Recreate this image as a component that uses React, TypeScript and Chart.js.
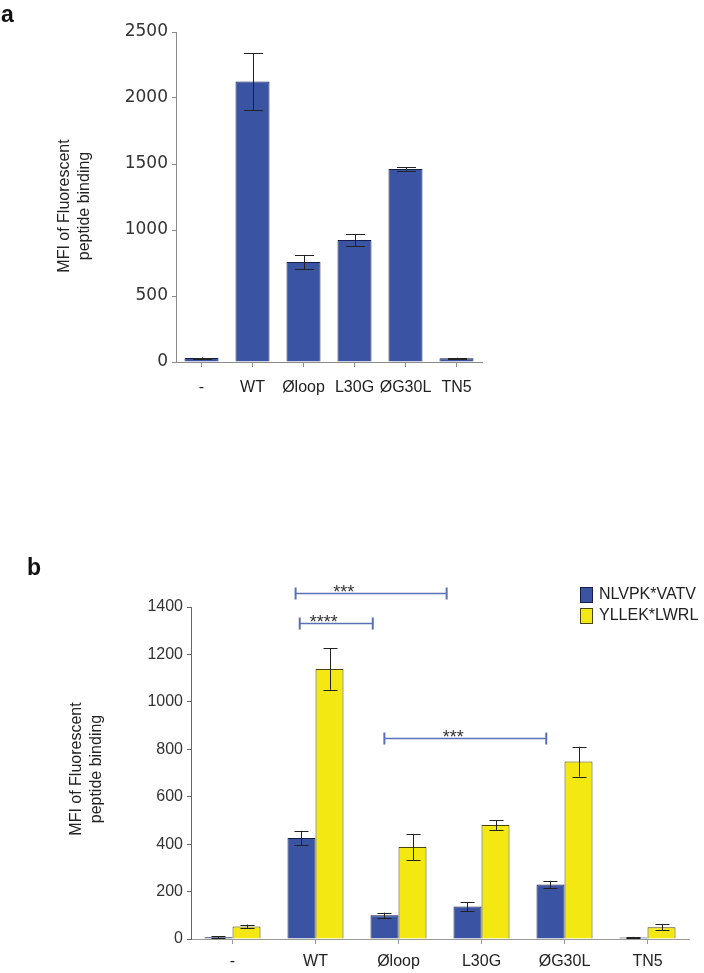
import React, { useEffect, useRef } from 'react';
import { Chart, registerables } from 'chart.js';

Chart.register(...registerables);

const FONT = '"Liberation Sans", Arial, sans-serif';

// ---------- Panel a data ----------
const categoriesA = ['-', 'WT', 'Øloop', 'L30G', 'ØG30L', 'TN5'];
const valuesA = [30, 2125, 758, 924, 1462, 28];
const errorsA = [4, 216, 53, 45, 12, 4];
const yTicksA = [0, 500, 1000, 1500, 2000, 2500];
const yTitleA = ['MFI of Fluorescent', 'peptide binding'];

// ---------- Panel b data ----------
const categoriesB = ['-', 'WT', 'Øloop', 'L30G', 'ØG30L', 'TN5'];
const seriesNamesB = ['NLVPK*VATV', 'YLLEK*LWRL'];
const valuesB1 = [7, 426, 100, 137, 230, 6];
const errorsB1 = [4, 30, 11, 18, 15, 3];
const valuesB2 = [53, 1139, 388, 481, 748, 50];
const errorsB2 = [8, 88, 55, 21, 63, 12];
const yTicksB = [0, 200, 400, 600, 800, 1000, 1200, 1400];
const yTitleB = ['MFI of Fluorescent', 'peptide binding'];
const bracketStartsB = [0.76, 0.81, 1.83];
const bracketEndsB = [2.58, 1.69, 3.78];
const bracketLevelsB = [1460, 1333, 848];
const bracketLabelsB = ['***', '****', '***'];
const bracketLabelAtB = [1.34, 1.1, 2.66];

const BLUE = '#3a53a3';
const BLUE_BORDER = '#141d4a';
const YELLOW = '#f4e813';
const YELLOW_BORDER = '#4a4412';

function errorBarPlugin(errorSets: number[][], capHalf: number) {
  return {
    id: 'errorBars',
    afterDatasetsDraw(chart: any) {
      const ctx = chart.ctx;
      const yScale = chart.scales.y;
      ctx.save();
      ctx.strokeStyle = '#222';
      ctx.lineWidth = 1;
      errorSets.forEach((errs, di) => {
        const meta = chart.getDatasetMeta(di);
        const vals = chart.data.datasets[di].data as number[];
        meta.data.forEach((el: any, i: number) => {
          const x = Math.round(el.x) + 0.5;
          const top = yScale.getPixelForValue(vals[i] + errs[i]);
          const bot = yScale.getPixelForValue(Math.max(0, vals[i] - errs[i]));
          ctx.beginPath();
          ctx.moveTo(x, top);
          ctx.lineTo(x, bot);
          ctx.moveTo(x - capHalf, Math.round(top) + 0.5);
          ctx.lineTo(x + capHalf, Math.round(top) + 0.5);
          ctx.moveTo(x - capHalf, Math.round(bot) + 0.5);
          ctx.lineTo(x + capHalf, Math.round(bot) + 0.5);
          ctx.stroke();
        });
      });
      ctx.restore();
    },
  };
}

function textPlugin(letter: string, letterX: number, letterY: number, title: string[], titleX: number, titleY: number) {
  return {
    id: 'panelText',
    afterDraw(chart: any) {
      const ctx = chart.ctx;
      ctx.save();
      ctx.fillStyle = '#111';
      ctx.font = `bold 23px ${FONT}`;
      ctx.textAlign = 'left';
      ctx.textBaseline = 'alphabetic';
      ctx.fillText(letter, letterX, letterY);
      ctx.translate(titleX, titleY);
      ctx.rotate(-Math.PI / 2);
      ctx.font = `16px ${FONT}`;
      ctx.fillStyle = '#222';
      ctx.textAlign = 'center';
      ctx.textBaseline = 'middle';
      title.forEach((line, i) => ctx.fillText(line, 0, i * 20));
      ctx.restore();
    },
  };
}

const bracketPlugin = {
  id: 'brackets',
  afterDraw(chart: any) {
    const ctx = chart.ctx;
    const xs = chart.scales.x;
    const ys = chart.scales.y;
    ctx.save();
    bracketLevelsB.forEach((lvl, i) => {
      const x1 = xs.getPixelForValue(bracketStartsB[i]);
      const x2 = xs.getPixelForValue(bracketEndsB[i]);
      const y = Math.round(ys.getPixelForValue(lvl)) + 0.5;
      ctx.strokeStyle = '#5a70b8';
      ctx.lineWidth = 1.5;
      ctx.beginPath();
      ctx.moveTo(x1, y);
      ctx.lineTo(x2, y);
      ctx.stroke();
      ctx.lineWidth = 2;
      ctx.beginPath();
      ctx.moveTo(x1, y - 6);
      ctx.lineTo(x1, y + 6);
      ctx.moveTo(x2, y - 6);
      ctx.lineTo(x2, y + 6);
      ctx.stroke();
      ctx.fillStyle = '#333';
      ctx.font = `18px ${FONT}`;
      ctx.textAlign = 'center';
      ctx.textBaseline = 'alphabetic';
      ctx.fillText(bracketLabelsB[i], xs.getPixelForValue(bracketLabelAtB[i]), y + 4);
    });
    ctx.restore();
  },
};

const legendPlugin = {
  id: 'customLegend',
  afterDraw(chart: any) {
    const ctx = chart.ctx;
    ctx.save();
    chart.data.datasets.forEach((ds: any, i: number) => {
      const y = 107 + i * 21;
      ctx.fillStyle = ds.backgroundColor;
      ctx.fillRect(580, y, 13, 16);
      ctx.strokeStyle = ds.borderColor;
      ctx.lineWidth = 1;
      ctx.strokeRect(580.5, y + 0.5, 12, 15);
      ctx.fillStyle = '#222';
      ctx.font = `16px ${FONT}`;
      ctx.textAlign = 'left';
      ctx.textBaseline = 'middle';
      ctx.fillText(ds.label, 599, y + 8);
    });
    ctx.restore();
  },
};

const plainNumber = (v: any) => String(v);

function xAxis(color: string, height: number, pad: number) {
  return {
    grid: { drawOnChartArea: false, drawTicks: true, tickLength: 5, color, offset: false },
    border: { display: true, color, width: 1 },
    ticks: {
      padding: pad,
      color: '#222',
      font: { size: 16, family: FONT },
      maxRotation: 0,
      minRotation: 0,
      autoSkip: false,
    },
    afterFit: (s: any) => { s.height = height; },
  };
}

function yAxis(color: string, max: number, ticksArr: number[], width: number, font: any) {
  return {
    min: 0,
    max,
    grid: { drawOnChartArea: false, drawTicks: true, tickLength: 4, color },
    border: { display: true, color, width: 1 },
    afterBuildTicks: (s: any) => { s.ticks = ticksArr.map((v) => ({ value: v })); },
    ticks: { padding: 4, color: '#333', font, callback: plainNumber },
    afterFit: (s: any) => { s.width = width; },
  };
}

export default function App() {
  const refA = useRef<HTMLCanvasElement>(null);
  const refB = useRef<HTMLCanvasElement>(null);

  useEffect(() => {
    Chart.defaults.font.family = FONT;
    const a = new Chart(refA.current as HTMLCanvasElement, {
      type: 'bar',
      data: {
        labels: categoriesA,
        datasets: [
          {
            label: 'MFI',
            data: valuesA,
            backgroundColor: BLUE,
            borderColor: BLUE_BORDER,
            borderWidth: 1,
            categoryPercentage: 0.667,
            barPercentage: 1,
          },
        ],
      },
      options: {
        animation: false,
        responsive: false,
        layout: { padding: { top: 32, left: 0, right: 222, bottom: 0 } },
        plugins: { legend: { display: false }, tooltip: { enabled: false } },
        scales: {
          x: xAxis('#8a8a8a', 58, 11),
          y: yAxis('#8a8a8a', 2500, yTicksA, 176, { size: 17, family: '"DejaVu Sans", sans-serif' }),
        },
      } as any,
      plugins: [errorBarPlugin([errorsA], 9.5), textPlugin('a', 1, 22, yTitleA, 65, 206)],
    });

    const b = new Chart(refB.current as HTMLCanvasElement, {
      type: 'bar',
      data: {
        labels: categoriesB,
        datasets: [
          {
            label: seriesNamesB[0],
            data: valuesB1,
            backgroundColor: BLUE,
            borderColor: BLUE_BORDER,
            borderWidth: 1,
            categoryPercentage: 0.675,
            barPercentage: 1,
          },
          {
            label: seriesNamesB[1],
            data: valuesB2,
            backgroundColor: YELLOW,
            borderColor: YELLOW_BORDER,
            borderWidth: 1,
            categoryPercentage: 0.675,
            barPercentage: 1,
          },
        ],
      },
      options: {
        animation: false,
        responsive: false,
        layout: { padding: { top: 127, left: 0, right: 15, bottom: 0 } },
        plugins: { legend: { display: false }, tooltip: { enabled: false } },
        scales: {
          x: xAxis('#999', 34, 8),
          y: yAxis('#666', 1400, yTicksB, 191, { size: 16, family: FONT }),
        },
      } as any,
      plugins: [
        errorBarPlugin([errorsB1, errorsB2], 7),
        textPlugin('b', 27, 95, yTitleB, 77, 289),
        bracketPlugin,
        legendPlugin,
      ],
    });

    return () => {
      a.destroy();
      b.destroy();
    };
  }, []);

  return (
    <div style={{ position: 'absolute', left: 0, top: 0, width: 704, height: 973, background: '#fff' }}>
      <canvas ref={refA} width={704} height={420} style={{ position: 'absolute', left: 0, top: 0 }} />
      <canvas ref={refB} width={704} height={493} style={{ position: 'absolute', left: 0, top: 480 }} />
    </div>
  );
}
